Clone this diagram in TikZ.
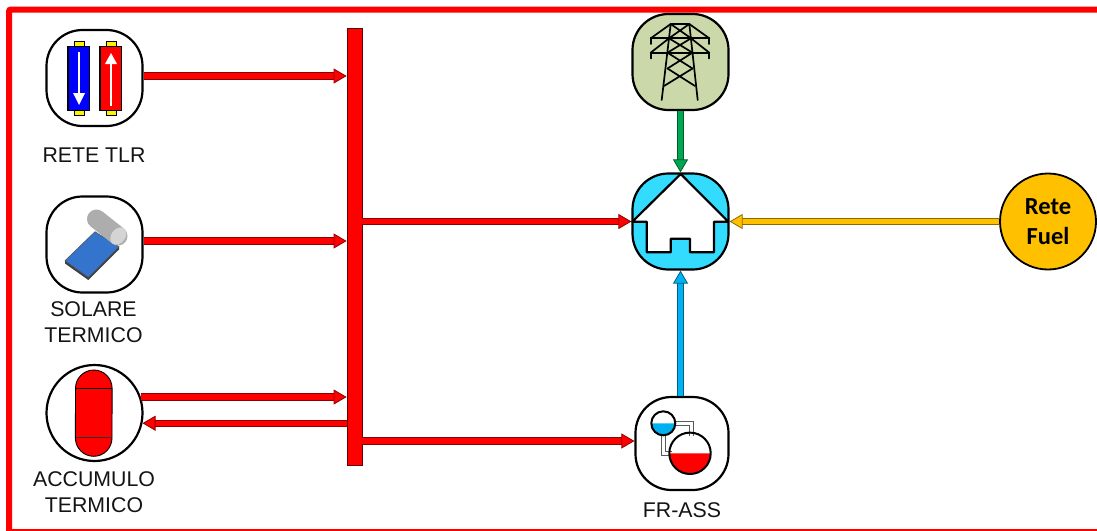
\documentclass[tikz,border=0pt]{standalone}
\usepackage{fontspec}
\setmainfont{Liberation Sans}
\newfontfamily\calibri{Carlito}
\usetikzlibrary{arrows.meta,calc,shapes.geometric}
\definecolor{frame}{RGB}{255,0,0}
\definecolor{gridbg}{RGB}{202,216,170}
\definecolor{housebg}{RGB}{51,219,255}
\definecolor{fuel}{RGB}{255,192,0}
\definecolor{flowgreen}{RGB}{0,166,81}
\definecolor{flowblue}{RGB}{0,176,240}
\definecolor{panel}{RGB}{52,116,204}
\tikzset{
  iconbox/.style={draw=black,line width=2.2pt,rounded corners=36pt,minimum width=96pt,minimum height=96pt,inner sep=0pt,fill=white},
  iconround/.style={draw=black,line width=2.2pt,circle,minimum size=96pt,inner sep=0pt,fill=white},
  lab/.style={font=\fontsize{21.3}{25.5}\selectfont,align=center,text=black!92,inner sep=0pt},
  pipe/.style={line width=1pt,draw=#1!55!black,double=#1,double distance=5.4pt,
    -{Triangle[length=13pt,width=15pt,fill=#1,color=#1!55!black,line width=.8pt,sep=0pt]}},
  towerline/.style={line width=1.7pt,line cap=round,line join=round},
  tube/.style={line width=1pt,draw=black!65,double=white,double distance=2.6pt}
}
\begin{document}
\begin{tikzpicture}[x=1pt,y=-1pt]
\useasboundingbox (0,0) rectangle (1097,530);
\clip (0,0) rectangle (1097,530);
\fill[white] (0,0) rectangle (1097,530);
% frame
\draw[frame,line width=6pt,rounded corners=2pt] (9,9.5) rectangle (1110,532);
% nodes
\node[iconbox] (tlr) at (94.5,78) {};
\node[iconbox] (solar) at (94.5,244.5) {};
\node[iconround] (accum) at (94.5,413) {};
\node[iconbox,fill=gridbg] (grid) at (680.5,62) {};
\node[iconbox,fill=housebg] (house) at (680.5,221.5) {};
\node[iconbox,minimum width=93pt,minimum height=93pt] (frass) at (682,443.5) {};
\node[circle,draw=black,line width=1.8pt,fill=fuel,minimum size=96pt,inner sep=0pt,align=center,font=\calibri\bfseries\fontsize{24.5}{30}\selectfont,text=black] (retefuel) at (1048,221.5) {Rete\\Fuel};
\node[draw=black!60!red,line width=.8pt,fill=frame,minimum width=15pt,minimum height=437pt,inner sep=0pt] (bar) at (354.5,246.5) {};
% labels
\node[lab] (ltlr) at (94,155.5) {RETE TLR};
\node[lab] (lsolar) at (93.5,322) {SOLARE\\TERMICO};
\node[lab] (laccum) at (94,492) {ACCUMULO\\TERMICO};
\node[lab] (lfrass) at (682,510.5) {FR-ASS};
% TLR icon
\draw[black,line width=.9pt,fill=yellow] (74,41.5) rectangle (84,46.5);
\draw[black,line width=.9pt,fill=yellow] (74,110.5) rectangle (84,115.5);
\draw[black,line width=.9pt,fill=yellow] (106,41.5) rectangle (116,46.5);
\draw[black,line width=.9pt,fill=yellow] (106,110.5) rectangle (116,115.5);
\draw[black,line width=1.2pt,fill=blue] (68,46.5) rectangle (89.5,110.5);
\draw[black,line width=1.2pt,fill=red] (100,46.5) rectangle (121.5,110.5);
\draw[white,line width=2pt] (79,52) -- (79,95);
\fill[white] (73,93) -- (85,93) -- (79,105) -- cycle;
\draw[white,line width=2pt] (111,106) -- (111,62);
\fill[white] (105,64) -- (117,64) -- (111,53) -- cycle;
% solar icon
\fill[black!75] (65,260.7) -- (88.3,277.3) -- (119,246.7) -- (119,249.5) -- (88.3,280) -- (65,263.5) -- cycle;
\draw[black!70,line width=.5pt,fill=panel] (65,260.7) -- (95,231.7) -- (119,246.7) -- (88.3,277.3) -- cycle;
\draw[black!32,line width=19pt,line cap=round] (96.5,219) -- (118,236);
\fill[black!17] (118.3,236) ellipse[x radius=7pt,y radius=9.5pt,rotate=-38];
% accumulator icon
\draw[black,line width=.9pt,fill=red] (75.5,388.3) arc[start angle=180,end angle=0,radius=18.3pt] -- (112,438) arc[start angle=0,end angle=-180,radius=18.3pt] -- cycle;
\draw[black,line width=.7pt] (75.5,388.3) -- (112,388.3);
\draw[black!80,line width=1.2pt] (75.5,437.5) -- (112,437.5);
% pylon icon
\draw[towerline] (661.7,100) -- (670.7,24) -- (689.3,24) -- (697.7,100);
\draw[towerline] (650.7,38.3) -- (709.3,38.3) (650.7,52.7) -- (709.3,52.7);
\draw[towerline] (670.7,24) -- (650.7,38.3) (689.3,24) -- (709.3,38.3);
\draw[towerline] (669,38.3) -- (650.7,52.7) (691,38.3) -- (709.3,52.7);
\draw[towerline] (650.7,38.3) -- (650.7,44) (709.3,38.3) -- (709.3,44) (650.7,52.7) -- (650.7,58.5) (709.3,52.7) -- (709.3,58.5);
\draw[towerline] (670.7,24) -- (691,38.3) (689.3,24) -- (669,38.3);
\draw[towerline] (669,38.3) -- (692.5,52.7) (691,38.3) -- (667.5,52.7);
\draw[towerline] (667.5,52.7) -- (692.5,68.5) (692.5,52.7) -- (667.5,68.5);
\draw[towerline] (667.5,68.5) -- (695,86) (692.5,68.5) -- (664,86);
% house icon
\draw[black,line width=2.2pt,line join=round,fill=white] (680.7,174) -- (728.3,221.7) -- (714,221.7) -- (714,252.3) -- (690,252.3) -- (690,238.7) -- (670.7,238.7) -- (670.7,252.3) -- (646.7,252.3) -- (646.7,221.7) -- (632.3,221.7) -- cycle;
% FR-ASS icon
\draw[tube] (675,423.3) -- (691.7,423.3) -- (691.7,436);
\draw[tube] (663.3,435) -- (663.3,453.3) -- (672,453.3);
\fill[flowblue] (651.3,423.3) arc[start angle=180,end angle=360,radius=12pt] -- cycle;
\draw[black,line width=2pt] (663.3,423.3) circle[radius=12pt];
\fill[frame] (669.3,453.3) arc[start angle=180,end angle=360,radius=20.7pt] -- cycle;
\draw[black,line width=2pt] (690,453.3) circle[radius=20.7pt];
% connectors
\draw[pipe=frame] ([yshift=2pt]tlr.east) -- ([yshift=2pt]tlr.east -| bar.west);
\draw[pipe=frame] ([yshift=3.5pt]solar.east) -- ([yshift=3.5pt]solar.east -| bar.west);
\draw[pipe=frame] (accum.19.5) -- (accum.19.5 -| bar.west);
\draw[pipe=frame] (accum.-12 -| bar.west) -- (accum.-12);
\draw[pipe=frame] (bar.east |- house.west) -- (house.west);
\draw[pipe=frame] ([yshift=2.5pt]bar.east |- frass.west) -- ([yshift=2.5pt]frass.west);
\draw[pipe=flowgreen] (grid.south) -- (house.north);
\draw[pipe=fuel] (retefuel.west) -- (house.east);
\draw[pipe=flowblue] (frass.north -| house.south) -- (house.south);
\end{tikzpicture}
\end{document}
